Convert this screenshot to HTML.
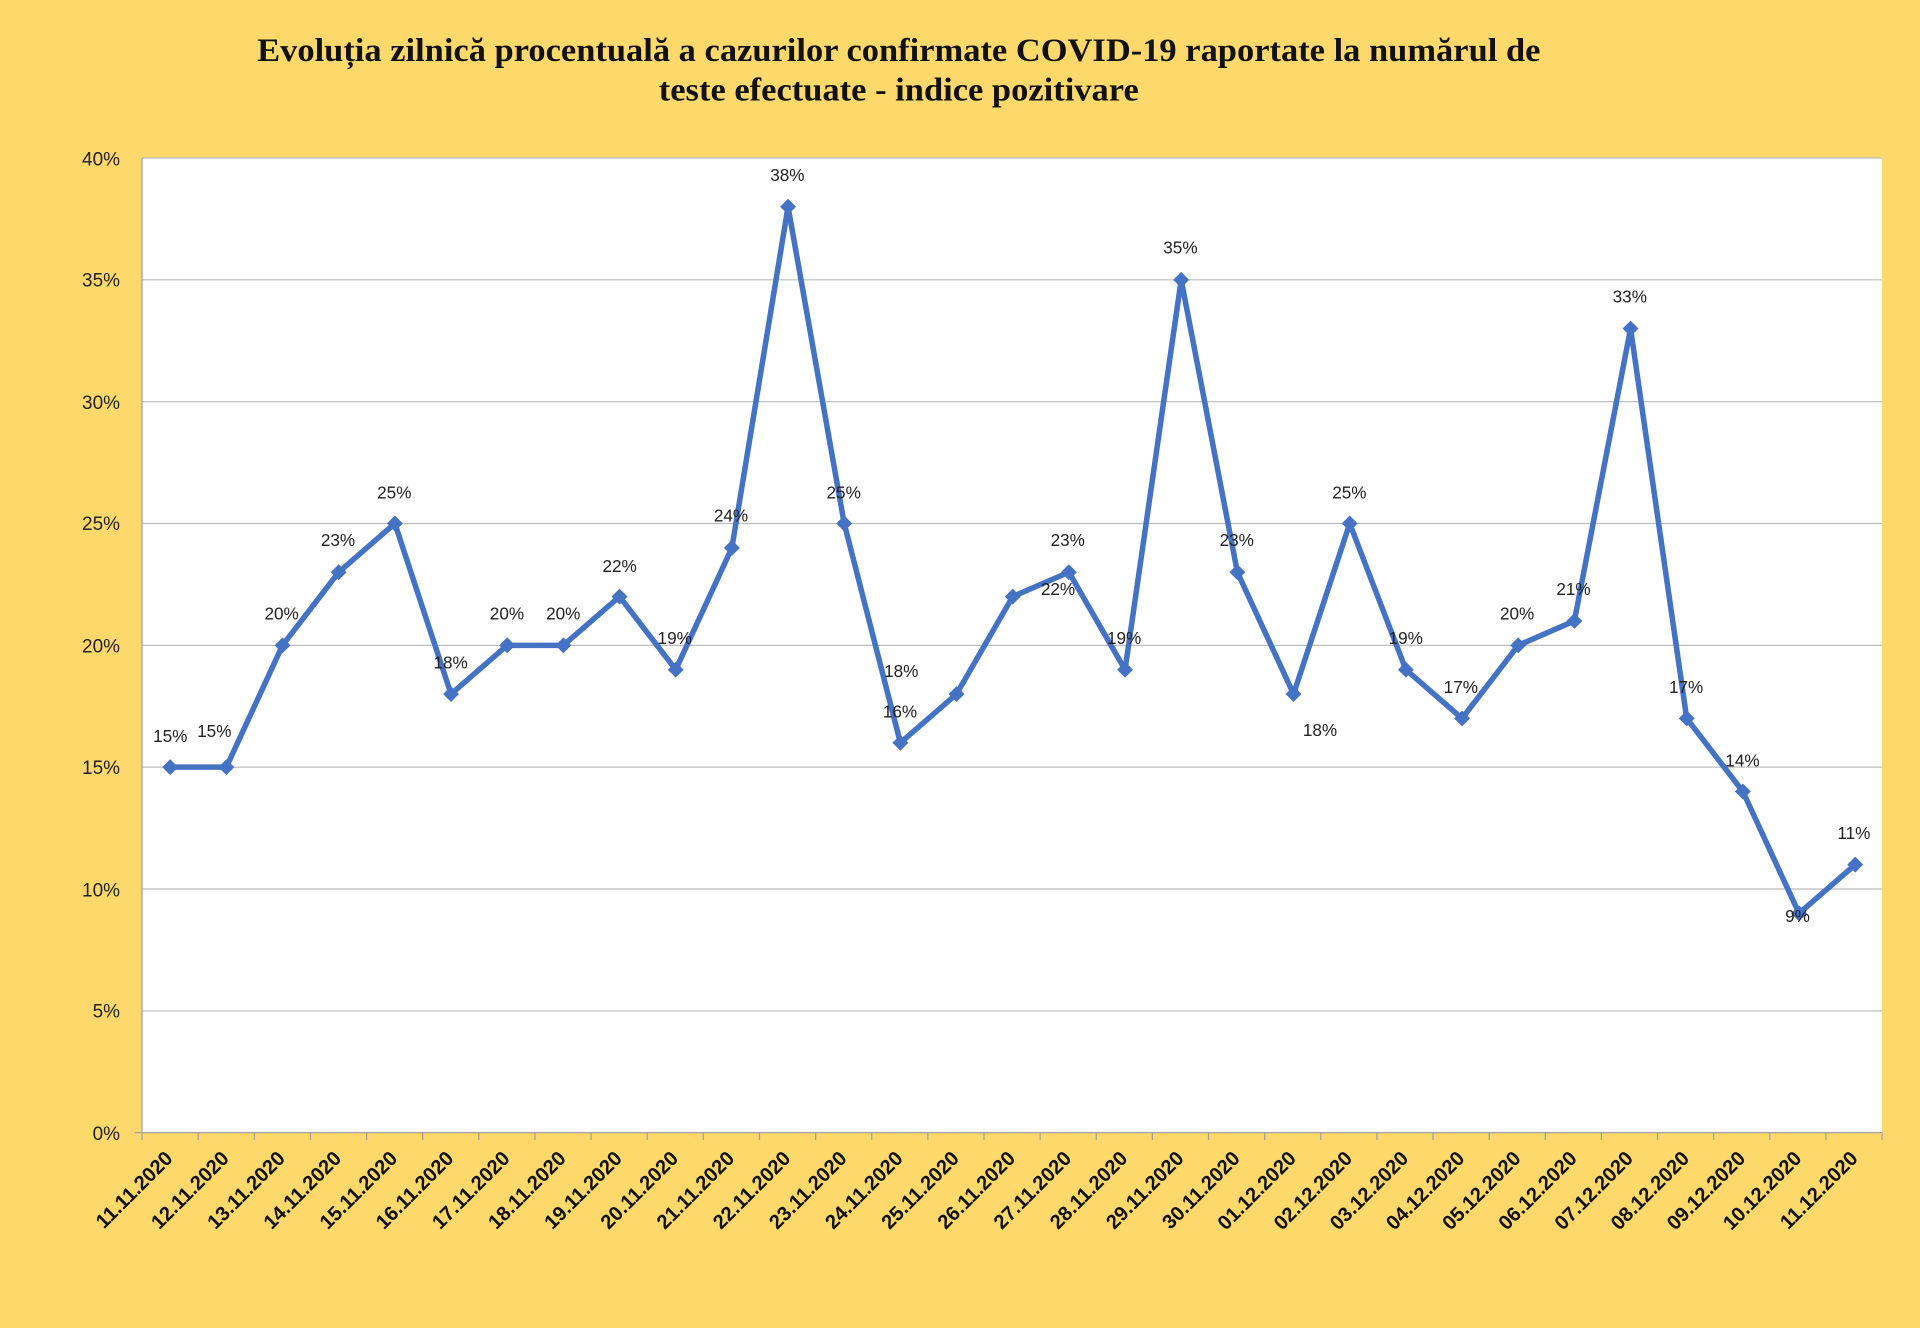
<!DOCTYPE html>
<html><head><meta charset="utf-8"><style>
html,body{margin:0;padding:0;background:#FDD86B;}
svg{display:block}
</style></head><body>
<svg width="1920" height="1328" viewBox="0 0 1568 1084.5" xmlns="http://www.w3.org/2000/svg">
<rect width="1568" height="1084.5" fill="#FDD86B"/>
<text x="210" y="50" textLength="1048" lengthAdjust="spacingAndGlyphs" font-family="Liberation Serif, serif" font-weight="bold" font-size="27" fill="#111">Evoluția zilnică procentuală a cazurilor confirmate COVID-19 raportate la numărul de</text>
<text x="538" y="82" textLength="392" lengthAdjust="spacingAndGlyphs" font-family="Liberation Serif, serif" font-weight="bold" font-size="27" fill="#111">teste efectuate - indice pozitivare</text>
<rect x="116" y="129" width="1421" height="796" fill="#fff"/>
<g stroke="#BDBDBD" stroke-width="1">
<line x1="116" y1="129" x2="1537" y2="129"/><line x1="116" y1="228.5" x2="1537" y2="228.5"/><line x1="116" y1="328" x2="1537" y2="328"/><line x1="116" y1="427.5" x2="1537" y2="427.5"/><line x1="116" y1="527" x2="1537" y2="527"/><line x1="116" y1="626.5" x2="1537" y2="626.5"/><line x1="116" y1="726" x2="1537" y2="726"/><line x1="116" y1="825.5" x2="1537" y2="825.5"/>
</g>
<line x1="116" y1="129" x2="116" y2="925" stroke="#A0A0A0"/>
<line x1="110" y1="925" x2="1537" y2="925" stroke="#A0A0A0"/>
<g font-family="Liberation Sans, sans-serif" font-size="15.5" fill="#222" text-anchor="end">
<text x="98" y="135">40%</text><text x="98" y="234">35%</text><text x="98" y="334">30%</text><text x="98" y="433">25%</text><text x="98" y="533">20%</text><text x="98" y="632">15%</text><text x="98" y="732">10%</text><text x="98" y="831">5%</text><text x="98" y="931">0%</text>
</g>
<g id="chart"></g>
</svg>
<script>
const d=[15,15,20,23,25,18,20,20,22,19,24,38,25,16,18,22,23,19,35,23,18,25,19,17,20,21,33,17,14,9,11];
const dates=["11.11","12.11","13.11","14.11","15.11","16.11","17.11","18.11","19.11","20.11","21.11","22.11","23.11","24.11","25.11","26.11","27.11","28.11","29.11","30.11","01.12","02.12","03.12","04.12","05.12","06.12","07.12","08.12","09.12","10.12","11.12"];
const labs=[[139,601,"15%"],[175,597,"15%"],[230,501,"20%"],[276,441,"23%"],[322,402,"25%"],[368,541,"18%"],[414,501,"20%"],[460,501,"20%"],[506,462,"22%"],[551,521,"19%"],[597,421,"24%"],[643,143,"38%"],[689,402,"25%"],[736,548,"18%"],[735,581,"16%"],[864,481,"22%"],[872,441,"23%"],[918,521,"19%"],[964,202,"35%"],[1010,441,"23%"],[1078,596,"18%"],[1102,402,"25%"],[1148,521,"19%"],[1193,561,"17%"],[1239,501,"20%"],[1285,481,"21%"],[1331,242,"33%"],[1377,561,"17%"],[1423,621,"14%"],[1468,748,"9%"],[1514,680,"11%"]];
const X=i=>139+45.87*i, Y=v=>925-v*19.9;
let s='';
for(let i=0;i<=31;i++){const x=116+45.84*i;s+=`<line x1="${x}" y1="925" x2="${x}" y2="931" stroke="#A0A0A0"/>`;}
s+=`<polyline fill="none" stroke="#4472C4" stroke-width="4.5" stroke-linejoin="round" points="${d.map((v,i)=>X(i)+','+Y(v)).join(' ')}"/>`;
d.forEach((v,i)=>{const x=X(i),y=Y(v);s+=`<polygon points="${x},${y-6.5} ${x+6.5},${y} ${x},${y+6.5} ${x-6.5},${y}" fill="#4472C4"/>`;});
labs.forEach(l=>{s+=`<text x="${l[0]}" y="${l[1]+5}" font-family="Liberation Sans, sans-serif" font-size="14" fill="#222" text-anchor="middle">${l[2]}</text>`;});
dates.forEach((t,i)=>{const x=X(i)+3,y=947;s+=`<text transform="translate(${x},${y}) rotate(-45)" font-family="Liberation Sans, sans-serif" font-weight="bold" font-size="16.5" fill="#111" text-anchor="end">${t}.2020</text>`;});
document.getElementById('chart').innerHTML=s;
</script>
</body></html>
